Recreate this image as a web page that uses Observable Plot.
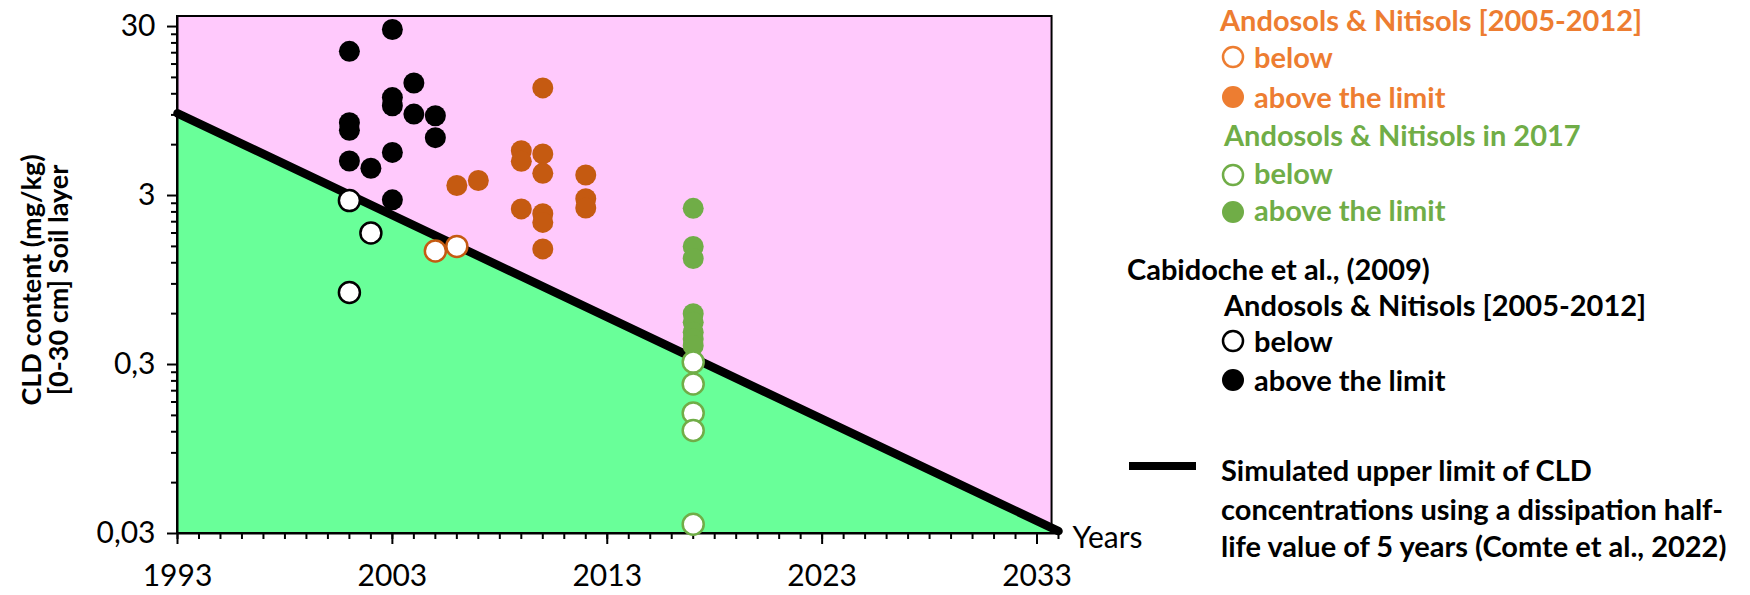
<!DOCTYPE html>
<html>
<head>
<meta charset="utf-8">
<script src="https://cdn.jsdelivr.net/npm/d3@7"></script>
<script src="https://cdn.jsdelivr.net/npm/@observablehq/plot@0.6"></script>
<style>
  html, body { margin: 0; padding: 0; background: #fff; }
  #wrap { position: relative; width: 1750px; height: 595px; overflow: hidden; font-family: Lato, "Open Sans", sans-serif; }
  #chart { position: absolute; left: 0; top: 0; }
  #ytitle { position: absolute; left: 44px; top: 280px; transform: translate(-50%, -50%) rotate(-90deg);
            white-space: nowrap; text-align: center; font-weight: 700; font-size: 27px; line-height: 1.0; color: #000; }
  .lg { position: absolute; white-space: nowrap; font-weight: 700; transform: translateY(-50%); line-height: 1; }
  .mk { position: absolute; transform: translate(-50%, -50%); }
</style>
</head>
<body>
<div id="wrap">
  <div id="chart"></div>
  <div id="ytitle">CLD content (mg/kg)<br>[0-30 cm] Soil layer</div>
  <div id="legend"></div>
</div>
<script>
// ---- data ----
const blackAboveYear = [2003, 2001, 2004, 2003, 2003, 2004, 2005, 2001, 2001, 2005, 2003, 2001, 2002, 2003];
const blackAboveCLD  = [28.8, 21.4, 13.9, 11.4, 10.2, 9.1, 8.9, 8.1, 7.3, 6.6, 5.4, 4.8, 4.35, 2.83];
const blackBelowYear = [2001, 2002, 2001];
const blackBelowCLD  = [2.80, 1.80, 0.80];
const orangeAboveYear = [2006, 2007, 2010, 2009, 2009, 2010, 2010, 2012, 2009, 2010, 2010, 2012, 2012, 2010];
const orangeAboveCLD  = [3.44, 3.68, 13.0, 5.53, 4.78, 5.29, 4.06, 3.97, 2.50, 2.34, 2.08, 2.87, 2.53, 1.45];
const orangeBelowYear = [2005, 2006];
const orangeBelowCLD  = [1.41, 1.50];
const greenAboveYear = [2017, 2017, 2017, 2017, 2017, 2017, 2017, 2017];
const greenAboveCLD  = [2.52, 1.50, 1.27, 0.60, 0.533, 0.466, 0.425, 0.388];
const greenBelowYear = [2017, 2017, 2017, 2017, 2017];
const greenBelowCLD  = [0.31, 0.23, 0.155, 0.122, 0.034];
const limitYear = [1993, 2034];
const limitCLD  = [9.2, 0.031];
const frameYear = [1993, 2033.7];
const frameCLD  = [0.03, 34.4];
const yMajorTicks = [0.03, 0.3, 3, 30];
const yMajorLabels = ["0,03", "0,3", "3", "30"];
const yMinorTicks = [0.06,0.09,0.12,0.15,0.18,0.21,0.24,0.27,0.6,0.9,1.2,1.5,1.8,2.1,2.4,2.7,6,9,12,15,18,21,24,27];
const xMajorTicks = [1993, 2003, 2013, 2023, 2033];
const xMinorTicks = d3.range(1993, 2035);

const pts = (xs, ys) => xs.map((x, i) => ({x, y: ys[i]}));

const PINK = "#FFC9FC", GREEN_BG = "#69FF99";
const ORANGE = "#C55A11", ORANGE_LG = "#ED7D31", GREEN = "#70AD47";
const R = 10.5;

const frame = [{x1: frameYear[0], x2: frameYear[1], y1: frameCLD[0], y2: frameCLD[1]}];
const limit = pts(limitYear, limitCLD);

const chart = Plot.plot({
  width: 1160,
  height: 595,
  marginLeft: 177,
  marginRight: 102,
  marginTop: 16,
  marginBottom: 62,
  style: {fontFamily: "Lato, 'Open Sans', sans-serif", background: "transparent", color: "#000"},
  x: {domain: [1993, 2034]},
  y: {type: "log", domain: [0.03, 34.4]},
  marks: [
    Plot.rect(frame, {x1: "x1", x2: "x2", y1: "y1", y2: "y2", fill: PINK}),
    Plot.areaY(limit, {x: "x", y1: frameCLD[0], y2: "y", fill: GREEN_BG}),
    Plot.rect(frame, {x1: "x1", x2: "x2", y1: "y1", y2: "y2", fill: "none", stroke: "#000", strokeWidth: 2}),
    Plot.line(limit, {x: "x", y: "y", stroke: "#000", strokeWidth: 8.5}),
    // axes
    Plot.axisY({ticks: yMajorTicks, tickFormat: (d) => yMajorLabels[yMajorTicks.indexOf(d)], tickSize: 10, tickPadding: 12, fontSize: 30, label: null, strokeWidth: 2}),
    Plot.axisY({ticks: yMinorTicks, text: null, tickSize: 6, label: null, strokeWidth: 2}),
    Plot.axisX({ticks: xMajorTicks, tickFormat: d => String(d), tickSize: 11, tickPadding: 20, fontSize: 30, label: null, strokeWidth: 2}),
    Plot.axisX({ticks: xMinorTicks, text: null, tickSize: 6, label: null, strokeWidth: 2}),
    Plot.ruleX([1993], {stroke: "#000", strokeWidth: 2}),
    Plot.ruleY([0.03], {stroke: "#000", strokeWidth: 2}),
    Plot.text(["Years"], {x: 2034, y: 0.03, text: d => d, frameAnchor: "bottom", textAnchor: "start", dx: 14, dy: 14, fontSize: 30}),
    // points
    Plot.dot(pts(blackAboveYear, blackAboveCLD), {x: "x", y: "y", r: R, fill: "#000"}),
    Plot.dot(pts(blackBelowYear, blackBelowCLD), {x: "x", y: "y", r: R, fill: "#fff", stroke: "#000", strokeWidth: 2.5}),
    Plot.dot(pts(orangeAboveYear, orangeAboveCLD), {x: "x", y: "y", r: R, fill: ORANGE}),
    Plot.dot(pts(orangeBelowYear, orangeBelowCLD), {x: "x", y: "y", r: R, fill: "#fff", stroke: ORANGE, strokeWidth: 2.5}),
    Plot.dot(pts(greenAboveYear, greenAboveCLD), {x: "x", y: "y", r: R, fill: GREEN}),
    Plot.dot(pts(greenBelowYear, greenBelowCLD), {x: "x", y: "y", r: R, fill: "#fff", stroke: GREEN, strokeWidth: 2.5})
  ]
});
document.getElementById("chart").appendChild(chart);

// ---- legend (HTML, right of the chart) ----
const legend = document.getElementById("legend");
const FS = 29;
function label(text, left, y, color, size = FS) {
  const d = document.createElement("div");
  d.className = "lg";
  d.style.left = left + "px"; d.style.top = y + "px"; d.style.color = color; d.style.fontSize = size + "px";
  d.textContent = text;
  legend.appendChild(d);
}
function marker(cx, cy, color, filled) {
  const s = document.createElementNS("http://www.w3.org/2000/svg", "svg");
  s.setAttribute("width", 26); s.setAttribute("height", 26);
  s.setAttribute("class", "mk");
  s.style.position = "absolute"; s.style.left = cx + "px"; s.style.top = cy + "px";
  const c = document.createElementNS("http://www.w3.org/2000/svg", "circle");
  c.setAttribute("cx", 13); c.setAttribute("cy", 13); c.setAttribute("r", filled ? 11 : 10);
  c.setAttribute("fill", filled ? color : "#fff");
  c.setAttribute("stroke", filled ? "none" : color);
  c.setAttribute("stroke-width", 2.5);
  s.appendChild(c);
  legend.appendChild(s);
}
label("Andosols & Nitisols [2005-2012]", 1220, 19, ORANGE_LG);
marker(1233, 57, ORANGE_LG, false); label("below", 1254, 56, ORANGE_LG);
marker(1233, 97, ORANGE_LG, true);  label("above the limit", 1254, 96, ORANGE_LG);
label("Andosols & Nitisols in 2017", 1224, 134, GREEN);
marker(1233, 175, GREEN, false); label("below", 1254, 172, GREEN);
marker(1233, 212, GREEN, true);  label("above the limit", 1254, 209, GREEN);
label("Cabidoche et al., (2009)", 1127, 268, "#000");
label("Andosols & Nitisols [2005-2012]", 1224, 304, "#000");
marker(1233, 341, "#000", false); label("below", 1254, 340, "#000");
marker(1233, 380, "#000", true);  label("above the limit", 1254, 379, "#000");
const bar = document.createElement("div");
bar.style.cssText = "position:absolute;left:1129px;top:462px;width:67px;height:8px;background:#000";
legend.appendChild(bar);
label("Simulated upper limit of CLD", 1221, 469, "#000");
label("concentrations using a dissipation half-", 1221, 508, "#000");
label("life value of 5 years (Comte et al., 2022)", 1221, 545, "#000");
</script>
</body>
</html>
